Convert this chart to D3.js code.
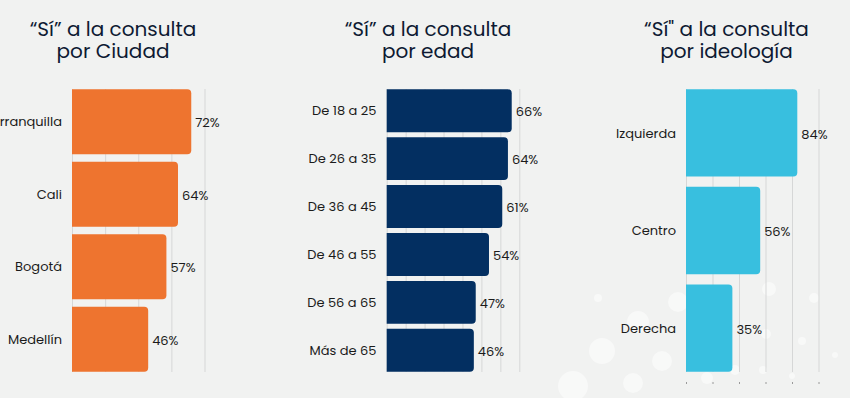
<!DOCTYPE html>
<html>
<head>
<meta charset="utf-8">
<script src="https://cdn.jsdelivr.net/npm/d3@7"></script>
<style>
  html, body { margin: 0; padding: 0; background: #f1f2f1; }
  svg { display: block; }
</style>
</head>
<body>
<div id="chart"></div>
<script>
// data
const cityNames = ["Barranquilla", "Cali", "Bogotá", "Medellín"];
const cityValues = [72, 64, 57, 46];
const cityTicks = [0, 20, 40, 60, 80];

const ageNames = ["De 18 a 25", "De 26 a 35", "De 36 a 45", "De 46 a 55", "De 56 a 65", "Más de 65"];
const ageValues = [66, 64, 61, 54, 47, 46];
const ageTicks = [0, 10, 20, 30, 40, 50, 60, 70];

const ideoNames = ["Izquierda", "Centro", "Derecha"];
const ideoValues = [84, 56, 35];
const ideoTicks = [0, 20, 40, 60, 80, 100];

const titles = [
    ["\u201cSí\u201d a la consulta", "por Ciudad"],
    ["\u201cSí\u201d a la consulta", "por edad"],
    ["\u201cSí\" a la consulta", "por ideología"]
];

var width = 850;
var height = 398;
var fontFam = "Poppins, 'Open Sans', sans-serif";

const svg = d3.select("#chart")
    .append("svg")
    .attr("width", width)
    .attr("height", height);

svg.append("rect")
    .attr("width", width)
    .attr("height", height)
    .attr("fill", "#f1f2f1");

// decorative bubbles bottom right
var bubbles = [[678,302,10],[638,322,11],[602,351,13],[662,361,10],[573,386,15],[633,383,10],
    [769,289,7],[814,298,5],[766,334,5],[802,341,4],[835,355,3],[735,370,5],
    [763,370,4],[792,376,3],[707,378,6],[598,298,4]];
svg.append("g")
    .selectAll("circle")
    .data(bubbles)
    .enter()
    .append("circle")
    .attr("cx", d => d[0])
    .attr("cy", d => d[1])
    .attr("r", d => d[2])
    .attr("fill", "#ffffff")
    .attr("opacity", 0.5);

function roundRight(x, y, w, h, r) {
    r = Math.min(r, w, h / 2);
    return "M" + x + "," + y +
        "H" + (x + w - r) +
        "Q" + (x + w) + "," + y + " " + (x + w) + "," + (y + r) +
        "V" + (y + h - r) +
        "Q" + (x + w) + "," + (y + h) + " " + (x + w - r) + "," + (y + h) +
        "H" + x + "Z";
}

function drawPanel(opt) {
    let g = svg.append("g");

    let xScale = d3.scaleLinear()
        .domain([0, opt.ticks[opt.ticks.length - 1]])
        .range([opt.x0, opt.x1]);

    let yScale = d3.scaleBand()
        .domain(opt.names)
        .range([89.3, 371.7])
        .paddingInner(0.105)
        .paddingOuter(0);

    // title, two lines
    opt.title.forEach(function(line, k) {
        g.append("text")
            .attr("x", opt.cx)
            .attr("y", 36 + k * 22.3)
            .attr("text-anchor", "middle")
            .attr("font-family", fontFam)
            .attr("font-size", 20)
            .attr("font-weight", 400)
            .attr("fill", "#0e1a33")
            .text(line);
    });

    // gridlines
    g.append("g")
        .selectAll("line")
        .data(opt.ticks)
        .enter()
        .append("line")
        .attr("x1", d => xScale(d) + 0.5)
        .attr("x2", d => xScale(d) + 0.5)
        .attr("y1", 89)
        .attr("y2", 372)
        .attr("stroke", "#d6d7d7")
        .attr("stroke-width", 1);

    if (opt.tickMarks) {
        g.append("g")
            .selectAll("line")
            .data(opt.ticks)
            .enter()
            .append("line")
            .attr("x1", d => xScale(d) + 0.5)
            .attr("x2", d => xScale(d) + 0.5)
            .attr("y1", 382)
            .attr("y2", 384)
            .attr("stroke", "#9a9a9a")
            .attr("stroke-width", 1);
    }

    // bars
    g.append("g")
        .selectAll("path")
        .data(opt.values)
        .enter()
        .append("path")
        .attr("d", (d, i) => roundRight(xScale(0), yScale(opt.names[i]),
            xScale(d) - xScale(0), yScale.bandwidth(), 4))
        .attr("fill", opt.color);

    // category labels
    g.append("g")
        .selectAll("text")
        .data(opt.names)
        .enter()
        .append("text")
        .attr("x", opt.labelX)
        .attr("y", d => yScale(d) + yScale.bandwidth() / 2)
        .attr("dy", "0.35em")
        .attr("text-anchor", "end")
        .attr("font-family", fontFam)
        .attr("font-size", 13)
        .attr("fill", "#1b1b1b")
        .text(d => d);

    // value labels
    g.append("g")
        .selectAll("text")
        .data(opt.values)
        .enter()
        .append("text")
        .attr("x", d => xScale(d) + 4)
        .attr("y", (d, i) => yScale(opt.names[i]) + yScale.bandwidth() / 2 + 1)
        .attr("dy", "0.35em")
        .attr("font-family", fontFam)
        .attr("font-size", 13)
        .attr("fill", "#1b1b1b")
        .text(d => d + "%");
}

drawPanel({
    names: cityNames, values: cityValues, ticks: cityTicks, title: titles[0],
    x0: 72, x1: 204.5, cx: 113, labelX: 62, color: "#ee742f", tickMarks: false
});
drawPanel({
    names: ageNames, values: ageValues, ticks: ageTicks, title: titles[1],
    x0: 386.7, x1: 519.3, cx: 428, labelX: 376.5, color: "#032f61", tickMarks: false
});
drawPanel({
    names: ideoNames, values: ideoValues, ticks: ideoTicks, title: titles[2],
    x0: 686, x1: 818.5, cx: 726.5, labelX: 676, color: "#38bfdf", tickMarks: true
});
</script>
</body>
</html>
